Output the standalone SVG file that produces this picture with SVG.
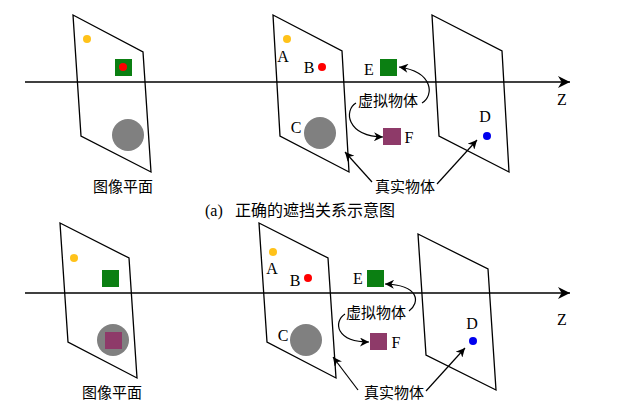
<svg xmlns="http://www.w3.org/2000/svg" width="640" height="406" viewBox="0 0 640 406">
<style>
.pl{fill:none;stroke:#000;stroke-width:1.3}
.ax{fill:none;stroke:#000;stroke-width:1.3}
.cn{fill:none;stroke:#000;stroke-width:1.2}
.lt{font-family:"Liberation Serif","Noto Sans CJK SC",serif;font-size:16px;fill:#000;text-anchor:middle}
.cj{font-family:"Liberation Serif","Noto Sans CJK SC",serif;font-size:15px;fill:#000;text-anchor:middle}
.cap{font-family:"Liberation Serif","Noto Sans CJK SC",serif;font-size:16px;fill:#000}
.yl{fill:#FFC21A}.rd{fill:#FF0000}.gr{fill:#0B7F12}.pu{fill:#8E3A69}.gy{fill:#808080}.bl{fill:#0000EE}
</style>
<defs>
<marker id="big" viewBox="0 0 10 10" refX="10" refY="5" markerWidth="15" markerHeight="12" markerUnits="userSpaceOnUse" orient="auto"><path d="M0,0 L10,5 L0,10 L3,5 z" fill="#000"/></marker>
<marker id="sm" viewBox="0 0 10 10" refX="10" refY="5" markerWidth="11" markerHeight="9" markerUnits="userSpaceOnUse" orient="auto"><path d="M0,0 L10,5 L0,10 L3,5 z" fill="#000"/></marker>
</defs>

<g id="top-image-plane">
<polygon class="pl" points="73,15 143,52 151,172 81,136"/>
<circle class="yl" cx="87" cy="39" r="4"/>
<rect class="gr" x="115" y="59" width="17" height="17"/>
<circle class="rd" cx="123" cy="67" r="4"/>
<circle class="gy" cx="128" cy="135" r="16"/>
<text class="cj" x="123" y="192">图像平面</text>
</g>
<g id="top-plane2">
<polygon class="pl" points="273,15 342,51 349,172 280,136"/>
<circle class="yl" cx="287" cy="39" r="4"/>
<text class="lt" x="283" y="62">A</text>
<circle class="rd" cx="322" cy="67" r="4"/>
<text class="lt" x="309" y="73">B</text>
<circle class="gy" cx="320" cy="133" r="16"/>
<text class="lt" x="296" y="133">C</text>
</g>
<g id="top-virtual">
<rect class="gr" x="380" y="59" width="17" height="17"/>
<text class="lt" x="369" y="75">E</text>
<rect class="pu" x="383" y="128" width="18" height="17"/>
<text class="lt" x="409" y="143">F</text>
<text class="cj" x="388" y="106">虚拟物体</text>
</g>
<g id="top-plane3">
<polygon class="pl" points="432,15 502,51 509,172 439,136"/>
<circle class="bl" cx="487" cy="136" r="4"/>
<text class="lt" x="485" y="122">D</text>
</g>
<g id="top-labels">
<text class="cj" x="405" y="192">真实物体</text>
<text class="lt" x="562" y="105">Z</text>
<text class="cap" x="205" y="216">(a)</text>
<text class="cap" x="235" y="216" font-size="17">正确的遮挡关系示意图</text>
</g>

<g id="bot-image-plane">
<polygon class="pl" points="60,223 129,258 137,378 68,342"/>
<circle class="yl" cx="74" cy="258" r="4"/>
<rect class="gr" x="102" y="270" width="17" height="17"/>
<circle class="gy" cx="113" cy="340" r="16"/>
<rect class="pu" x="105" y="332" width="17" height="17"/>
<text class="cj" x="112" y="398">图像平面</text>
</g>
<g id="bot-plane2">
<polygon class="pl" points="259,223 328,258 336,378 267,342"/>
<circle class="yl" cx="273" cy="252" r="4"/>
<text class="lt" x="272" y="274">A</text>
<circle class="rd" cx="308" cy="278" r="4"/>
<text class="lt" x="295" y="286">B</text>
<circle class="gy" cx="306" cy="340" r="16"/>
<text class="lt" x="283" y="341">C</text>
</g>
<g id="bot-virtual">
<rect class="gr" x="367" y="270" width="17" height="17"/>
<text class="lt" x="358" y="284">E</text>
<rect class="pu" x="370" y="333" width="17" height="17"/>
<text class="lt" x="396" y="348">F</text>
<text class="cj" x="376" y="318">虚拟物体</text>
</g>
<g id="bot-plane3">
<polygon class="pl" points="418,234 488,269 496,390 426,355"/>
<circle class="bl" cx="473" cy="341" r="4"/>
<text class="lt" x="472" y="329">D</text>
</g>
<g id="bot-labels">
<text class="cj" x="394" y="398">真实物体</text>
<text class="lt" x="562" y="325">Z</text>
</g>

<g id="connectors">
<line class="ax" x1="25" y1="82" x2="570" y2="82" marker-end="url(#big)"/>
<line class="ax" x1="25" y1="293" x2="570" y2="293" marker-end="url(#big)"/>
<path class="cn" d="M422,103 C434,96 434,72 399,67" marker-end="url(#sm)"/>
<path class="cn" d="M356,103 C344,110 346,136 383,137" marker-end="url(#sm)"/>
<line class="cn" x1="372" y1="182" x2="345" y2="152" marker-end="url(#sm)"/>
<line class="cn" x1="437" y1="184" x2="477" y2="140" marker-end="url(#sm)"/>
<path class="cn" d="M409,311 C420,303 420,285 385,284" marker-end="url(#sm)"/>
<path class="cn" d="M345,314 C333,322 336,342 369,342" marker-end="url(#sm)"/>
<line class="cn" x1="358" y1="390" x2="333" y2="357" marker-end="url(#sm)"/>
<line class="cn" x1="426" y1="391" x2="465" y2="348" marker-end="url(#sm)"/>
</g>
</svg>
